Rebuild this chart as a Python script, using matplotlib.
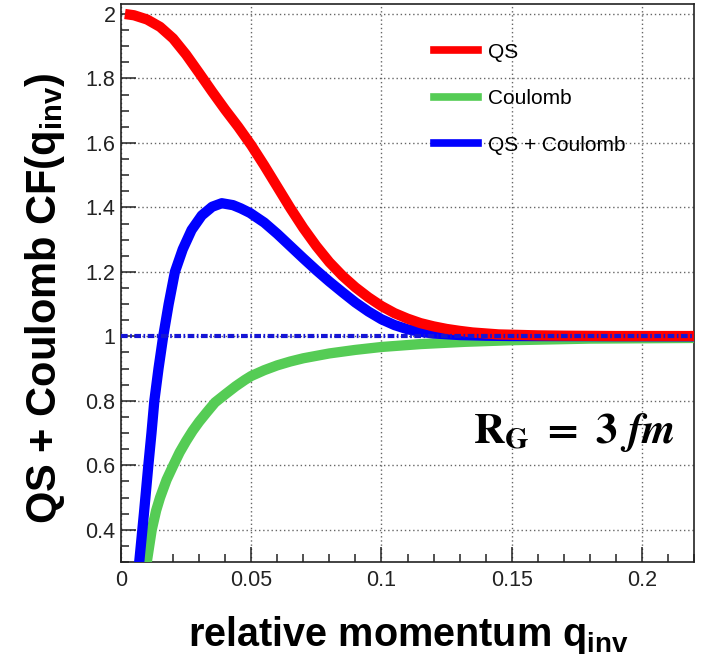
import numpy as np
import matplotlib
matplotlib.use("Agg")
import matplotlib.pyplot as plt
from matplotlib.lines import Line2D
from matplotlib.ticker import MultipleLocator, FuncFormatter

plt.rcParams['font.family'] = ['Liberation Sans', 'DejaVu Sans']
plt.rcParams['mathtext.fontset'] = 'custom'
plt.rcParams['mathtext.rm'] = 'Liberation Sans'
plt.rcParams['mathtext.bf'] = 'Liberation Sans:bold'
plt.rcParams['lines.scale_dashes'] = False

# quantum statistics (Bose-Einstein) correlation
q_qs = [0.0015, 0.005, 0.01, 0.015, 0.02, 0.025, 0.03, 0.035, 0.04, 0.045,
        0.05, 0.055, 0.06, 0.065, 0.07, 0.075, 0.08, 0.085, 0.09, 0.095,
        0.1, 0.105, 0.11, 0.115, 0.12, 0.125, 0.13, 0.135, 0.14, 0.145,
        0.15, 0.16, 0.17, 0.19, 0.22]
cf_qs = [2.0, 1.996, 1.983, 1.960, 1.924, 1.874, 1.817, 1.759, 1.703, 1.650,
         1.593, 1.530, 1.464, 1.398, 1.336, 1.280, 1.230, 1.188, 1.152, 1.121,
         1.094, 1.072, 1.055, 1.041, 1.031, 1.023, 1.017, 1.012, 1.009, 1.006,
         1.005, 1.003, 1.002, 1.001, 1.001]

# Coulomb factor
q_coul = [0.0092, 0.0099, 0.0118, 0.0135, 0.015, 0.0175, 0.0201, 0.0225, 0.025, 0.0275,
          0.03, 0.033, 0.0361, 0.04, 0.044, 0.0476, 0.05, 0.055, 0.06, 0.065,
          0.07, 0.08, 0.09, 0.1, 0.115, 0.132, 0.15, 0.18, 0.22]
cf_coul = [0.25, 0.30, 0.40, 0.46, 0.50, 0.555, 0.60, 0.64, 0.675, 0.707,
           0.735, 0.765, 0.795, 0.82, 0.845, 0.865, 0.877, 0.895, 0.91, 0.922,
           0.932, 0.947, 0.958, 0.967, 0.976, 0.983, 0.988, 0.993, 0.995]

# QS with Coulomb
q_tot = [0.0062, 0.007, 0.0088, 0.0105, 0.0117, 0.0128, 0.0144, 0.0162, 0.0183, 0.0207,
         0.0237, 0.0271, 0.031, 0.035, 0.0387, 0.043, 0.046, 0.0495, 0.055, 0.06,
         0.065, 0.07, 0.075, 0.08, 0.085, 0.09, 0.095, 0.1, 0.105, 0.11,
         0.115, 0.12, 0.13, 0.14, 0.15, 0.22]
cf_tot = [0.24, 0.30, 0.45, 0.60, 0.70, 0.80, 0.90, 1.00, 1.10, 1.20,
          1.27, 1.33, 1.375, 1.402, 1.413, 1.407, 1.397, 1.383, 1.353, 1.318,
          1.280, 1.242, 1.205, 1.170, 1.137, 1.105, 1.077, 1.053, 1.035, 1.022,
          1.014, 1.009, 1.004, 1.002, 1.001, 1.0]

fig = plt.figure(figsize=(7.02, 6.68), dpi=100)
ax = fig.add_axes([121/702, 1 - 562/668, 573/702, 558/668])

line_kw = dict(lw=7.4, solid_capstyle='butt', solid_joinstyle='round')
ax.plot(q_coul, cf_coul, color='#55cc55', zorder=3, **line_kw)
ax.plot(q_tot, cf_tot, color='#0000ff', zorder=4, **line_kw)
ax.plot(q_qs, cf_qs, color='#ff0000', zorder=5, **line_kw)
ax.axhline(1.0, color='#1515d5', lw=3.0, linestyle=(0, (4.8, 1.8, 1.2, 1.8)), zorder=6)

ax.set_xlim(0, 0.22)
ax.set_ylim(0.30, 2.031)

ax.xaxis.set_major_locator(MultipleLocator(0.05))
ax.xaxis.set_minor_locator(MultipleLocator(0.01))
ax.yaxis.set_major_locator(MultipleLocator(0.2))
ax.yaxis.set_minor_locator(MultipleLocator(0.05))
fmt = FuncFormatter(lambda v, p: '%g' % round(v, 3))
ax.xaxis.set_major_formatter(fmt)
ax.yaxis.set_major_formatter(fmt)

ax.tick_params(which='both', direction='in', colors='#222222', width=1.1,
               labelsize=15.5, top=False, right=False)
ax.tick_params(which='major', length=10.5)
ax.tick_params(which='minor', length=5.5)
ax.tick_params(axis='x', pad=6)
ax.tick_params(axis='y', pad=4)

ax.grid(True, which='major', color='#666666', lw=1.0, linestyle=(0, (1, 2)))
for s in ax.spines.values():
    s.set_linewidth(1.2)
    s.set_color('#222222')

handles = [Line2D([], [], color='#ff0000', lw=5.5),
           Line2D([], [], color='#55cc55', lw=5.5),
           Line2D([], [], color='#0000ff', lw=5.5)]
ax.legend(handles, ['QS', 'Coulomb', 'QS + Coulomb'], loc='upper left',
          bbox_to_anchor=(0.547, 0.931), frameon=False, fontsize=15,
          handlelength=2.1, handletextpad=0.48, labelspacing=1.32, borderpad=0,
          borderaxespad=0)

fig.text(408/702, 1 - 646/668, r'relative momentum q$_{\mathbf{inv}}$',
         fontsize=28.5, fontweight='bold', ha='center', va='baseline')
fig.text(45/702, 1 - 298/668, r'QS + Coulomb CF(q$_{\mathbf{inv}}$)',
         fontsize=30, fontweight='bold', rotation=90, ha='center', va='center')
fig.text(473/702, 1 - 443/668, r'$\mathbf{R}_{\mathbf{G}}\mathbf{\ =\ 3\ }\mathbfit{fm}$',
         fontsize=31, math_fontfamily='stix', ha='left', va='baseline')

fig.savefig('out.png', dpi=100)
